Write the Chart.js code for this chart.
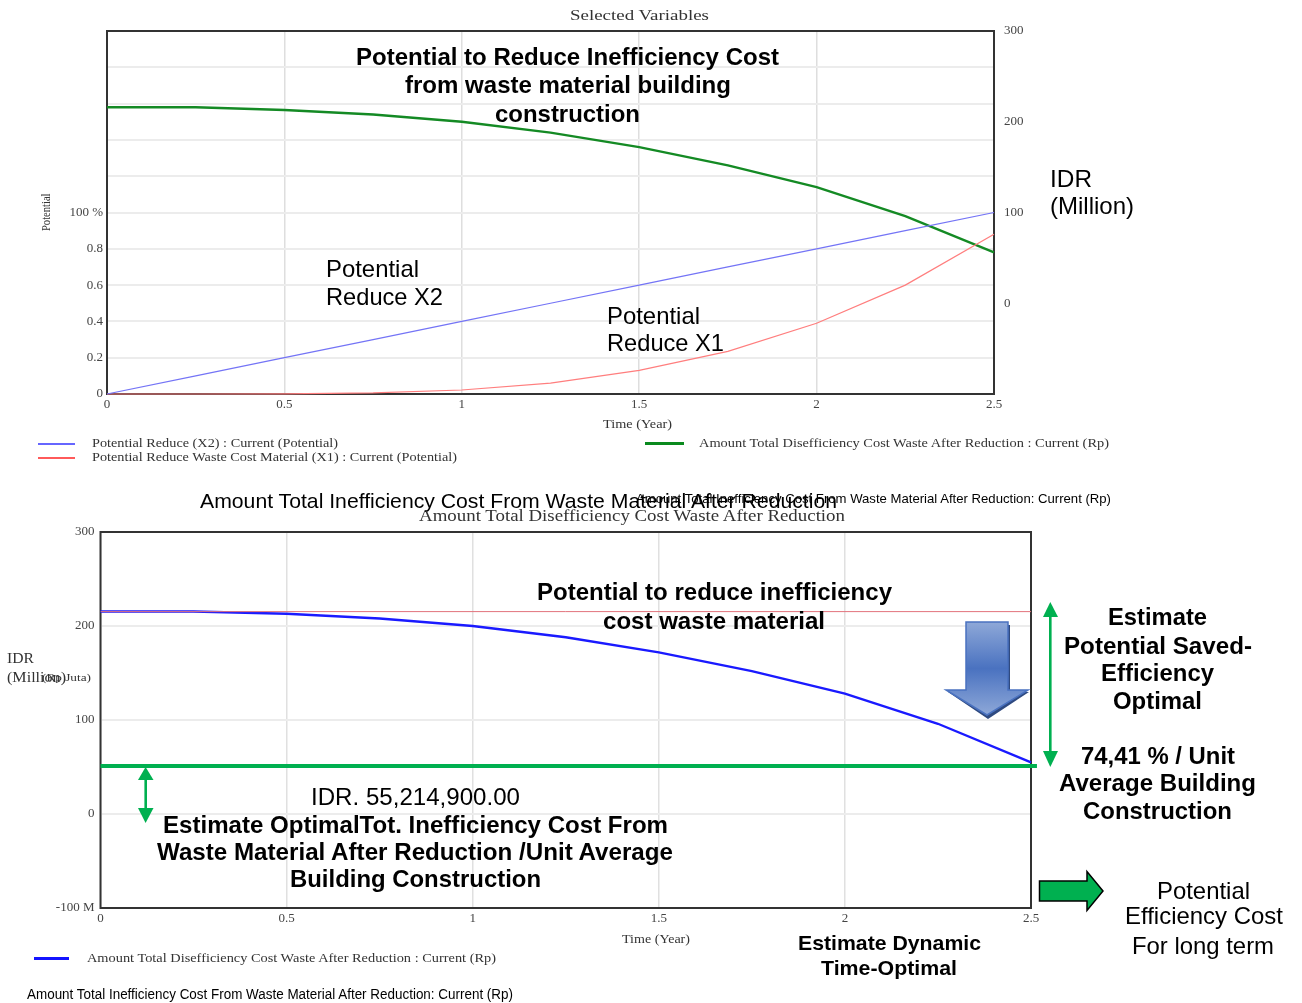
<!DOCTYPE html>
<html><head><meta charset="utf-8">
<script src="https://cdn.jsdelivr.net/npm/chart.js@4/dist/chart.umd.min.js"></script>
<style>
html,body{margin:0;padding:0;background:#fff;width:1302px;height:1003px;overflow:hidden}
canvas{position:absolute;left:0}
#top{top:0}#bot{top:480px}
svg{position:absolute;left:0;top:0}
.t{position:absolute;white-space:nowrap;line-height:1;transform-origin:left center}
.sans{font-family:"Liberation Sans",Arial,sans-serif;color:#000}
.b{font-weight:bold}
.serif{font-family:"Liberation Serif",serif;color:#333}
.sw{position:absolute}
</style></head><body>
<canvas id="top" width="1302" height="480"></canvas>
<canvas id="bot" width="1302" height="523"></canvas>
<svg width="1302" height="1003" viewBox="0 0 1302 1003">
<defs><linearGradient id="g" x1="0" y1="0" x2="0" y2="1">
<stop offset="0" stop-color="#8ea8d8"/><stop offset=".5" stop-color="#4a72c0"/><stop offset="1" stop-color="#8ea8d8"/></linearGradient></defs>
<path d="M969 625H1010V692H1029L988 719L948 692H969Z" fill="#2f4a80"/>
<path d="M966 622H1008V690H1028L987 715L946 690H966Z" fill="url(#g)" stroke="#4a72c0" stroke-width="1.5"/>
<g fill="#00b050" stroke="none">
<rect x="144.4" y="778" width="2.6" height="32"/><path d="M145.6 767L153.5 780H138Z"/><path d="M145.6 823L153.5 808H138Z"/>
<rect x="1049" y="615" width="2.6" height="138"/><path d="M1050.3 602L1058 617H1043Z"/><path d="M1050.3 767L1058 751H1043Z"/>
</g>
<path d="M1039.5 881H1087V871.5L1103 891L1087 910.5V901H1039.5Z" fill="#00b050" stroke="#000" stroke-width="1.5"/>
</svg>
<div class="sw" style="left:38px;top:443px;width:37px;height:1.5px;background:#6666ff"></div>
<div class="sw" style="left:38px;top:457px;width:37px;height:1.5px;background:#ff5a5a"></div>
<div class="sw" style="left:645px;top:442px;width:39px;height:3px;background:#0a8a1e"></div>
<div class="sw" style="left:34px;top:957px;width:35px;height:3px;background:#1414ff"></div>
<div id="labels"></div>
<script>
// ---- data ----
const timeYears = [0, 0.25, 0.5, 0.75, 1, 1.25, 1.5, 1.75, 2, 2.25, 2.5];
const potentialX2 = [0, 0.1, 0.2, 0.3, 0.4, 0.5, 0.6, 0.7, 0.8, 0.9, 1];
const potentialX1 = [0, 0, 0.001, 0.006, 0.022, 0.06, 0.13, 0.235, 0.39, 0.6, 0.88];
const costAfterReduction = [216, 216, 213, 208, 200, 188, 172, 152, 128, 96, 56];
const costBottom = [215.5, 215.5, 213, 208, 200, 188, 172, 152, 128, 96, 55];
const baselineX = [0, 2.5];
const baselineCost = [215.3, 215.3];
const optimalX = [0, 2.516];
const optimalCost = [51, 51];
const xTicks = [0, 0.5, 1, 1.5, 2, 2.5];
const leftTickText = {0:"0",0.2:"0.2",0.4:"0.4",0.6:"0.6",0.8:"0.8",1:"100 %"};
const rightTicks = [300, 200, 100, 0];
const bottomTickText = {300:"300",200:"200",100:"100",0:"0","-100":"-100 M"};

const pts = (xs, ys) => xs.map((x, i) => ({x, y: ys[i]}));
const line = (data, color, w, yAxisID, clip) => ({data, borderColor: color, borderWidth: w, yAxisID, pointRadius: 0, tension: 0, fill: false, clip: clip});
const tickFont = {family: '"Liberation Serif", serif', size: 13};
const frame = {id: 'frame', beforeDatasetsDraw(c){const a = c.chartArea, g = c.ctx; g.save(); g.strokeStyle = '#333'; g.lineWidth = 2; g.strokeRect(a.left, a.top, a.right - a.left, a.bottom - a.top); g.restore();}};
const width = w => s => { s.width = w; };
const height = h => s => { s.height = h; };
const xScale = (h, grid) => ({type: 'linear', min: 0, max: 2.5,
  afterBuildTicks: s => { s.ticks = xTicks.map(v => ({value: v})); }, afterFit: height(h),
  grid: {color: grid, lineWidth: 1.5, drawTicks: false}, border: {display: false},
  ticks: {padding: 3, maxRotation: 0, autoSkip: false, color: '#444', font: tickFont, callback: v => String(v)}});
const base = {responsive: false, animation: false, events: [], plugins: {legend: {display: false}, tooltip: {enabled: false}, title: {display: false}}};

new Chart(document.getElementById('top'), {type: 'line', plugins: [frame], data: {datasets: [
  line(pts(timeYears, potentialX2), '#7474f6', 1.2, 'yL', false),
  line(pts(timeYears, potentialX1), '#ff7e7e', 1.2, 'yL', false),
  line(pts(timeYears, costAfterReduction), '#148a24', 2.4, 'yR', false)
]}, options: {...base, layout: {padding: {top: 31}}, scales: {
  x: xScale(86, '#dedede'),
  yL: {position: 'left', min: 0, max: 2, afterFit: width(107),
    afterBuildTicks: s => { s.ticks = Array.from({length: 11}, (_, i) => ({value: i * 0.2})); },
    grid: {color: '#ececec', lineWidth: 2, drawTicks: false}, border: {display: false},
    ticks: {padding: 4, autoSkip: false, color: '#444', font: tickFont, callback: v => leftTickText[Math.round(v * 10) / 10] || ''}},
  yR: {position: 'right', min: -100, max: 300, afterFit: width(308),
    afterBuildTicks: s => { s.ticks = rightTicks.map(v => ({value: v})); },
    grid: {display: false}, border: {display: false},
    ticks: {padding: 2, autoSkip: false, color: '#444', font: tickFont, callback: v => String(v)}}
}}});

new Chart(document.getElementById('bot'), {type: 'line', plugins: [frame], data: {datasets: [
  line(pts(baselineX, baselineCost), '#e2737c', 1, 'y', true),
  line(pts(timeYears, costBottom), '#1a1aff', 2.4, 'y', false),
  line(pts(optimalX, optimalCost), '#00b050', 4, 'y', false)
]}, options: {...base, layout: {padding: {top: 52}}, scales: {
  x: xScale(95, '#e0e0e0'),
  y: {position: 'left', min: -100, max: 300, afterFit: width(100.5),
    afterBuildTicks: s => { s.ticks = [300, 200, 100, 0, -100].map(v => ({value: v})); },
    grid: {color: '#ececec', lineWidth: 2, drawTicks: false}, border: {display: false},
    ticks: {padding: 6, autoSkip: false, color: '#444', font: tickFont, callback: v => bottomTickText[v] || ''}},
  yPad: {position: 'right', display: true, afterFit: width(271), grid: {display: false}, border: {display: false}, ticks: {display: false}}
}}});

// ---- text: [text, class, size, left, centre y, target width]
const labels = [
 ["Selected Variables","serif",15,570,15,139],
 ["Potential to Reduce Inefficiency Cost","sans b",24,356,57,423],
 ["from waste material building","sans b",24,404.5,85,326],
 ["construction","sans b",24,495,114,145],
 ["Potential","sans",24,326,269,93],
 ["Reduce X2","sans",24,326,297,117],
 ["Potential","sans",24,607,316,93],
 ["Reduce X1","sans",24,607,343,117],
 ["IDR","sans",24,1050,179,42],
 ["(Million)","sans",24,1050,206,84],
 ["Time (Year)","serif",12,603,424,69],
 ["Potential Reduce (X2) : Current (Potential)","serif",12,92,443,246],
 ["Potential Reduce Waste Cost Material (X1) : Current (Potential)","serif",12,92,457,365],
 ["Amount Total Disefficiency Cost Waste After Reduction : Current (Rp)","serif",12,699,443,410],
 ["Amount Total Inefficiency Cost From Waste Material After Reduction","sans",21,200,500,637],
 ["Amount Total Inefficiency Cost From Waste Material After Reduction: Current (Rp)","sans",13,636,498,475],
 ["Amount Total Disefficiency Cost Waste After Reduction","serif",16,419,516,426],
 ["IDR","serif",15,7,658,27],
 ["(Million)","serif",15,7,677,59],
 ["(Rp Juta)","serif",11,42,677,49],
 ["Potential to reduce inefficiency","sans b",24,537,592,355],
 ["cost waste material","sans b",24,603,621,222],
 ["IDR. 55,214,900.00","sans",24,311,797,209],
 ["Estimate OptimalTot. Inefficiency Cost From","sans b",24,163,825,505],
 ["Waste Material After Reduction /Unit Average","sans b",24,157,852,516],
 ["Building Construction","sans b",24,290,879,251],
 ["Estimate","sans b",24,1108,617,99],
 ["Potential Saved-","sans b",24,1064,646,188],
 ["Efficiency","sans b",24,1101,673,113],
 ["Optimal","sans b",24,1113,701,89],
 ["74,41 % / Unit","sans b",24,1081,756,154],
 ["Average Building","sans b",24,1059,783,197],
 ["Construction","sans b",24,1083,811,149],
 ["Estimate Dynamic","sans b",21,798,942,183],
 ["Time-Optimal","sans b",21,821,967,136],
 ["Potential","sans",24,1157,891,93],
 ["Efficiency Cost","sans",24,1125,916,158],
 ["For long term","sans",24,1132,946,142],
 ["Time (Year)","serif",12,622,939,68],
 ["Amount Total Disefficiency Cost Waste After Reduction : Current (Rp)","serif",12,87,958,409],
 ["Amount Total Inefficiency Cost From Waste Material After Reduction: Current (Rp)","sans",14,27,994,486]
];
const host = document.getElementById('labels');
for (const [text, cls, size, left, cy, w] of labels) {
  const d = document.createElement('div');
  d.className = 't ' + cls; d.textContent = text;
  d.style.fontSize = size + 'px'; d.style.left = left + 'px'; d.style.top = (cy - size / 2) + 'px';
  host.appendChild(d);
  d.style.transform = 'scaleX(' + (w / d.getBoundingClientRect().width) + ')';
}
const v = document.createElement('div');
v.className = 't serif'; v.textContent = 'Potential'; v.style.fontSize = '12px';
v.style.left = '40px'; v.style.top = '231px';
v.style.transformOrigin = '0 0'; v.style.transform = 'rotate(-90deg) scaleX(0.88)';
host.appendChild(v);
</script>
</body></html>
